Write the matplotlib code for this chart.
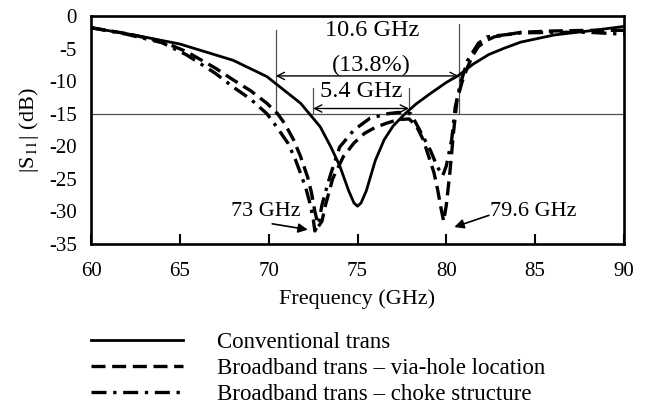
import matplotlib
matplotlib.use('Agg')
import matplotlib.pyplot as plt

# police style Times pour tout le graphique
plt.rcParams['font.family'] = ['Liberation Serif', 'DejaVu Serif']
plt.rcParams['mathtext.fontset'] = 'stix'
plt.rcParams['axes.unicode_minus'] = False

# courbe 1 : transition conventionnelle
f_conv = [60, 62.4, 65, 68, 69.9, 71.8, 72.9, 73.5, 74.0, 74.5, 74.8, 75.0, 75.2, 75.5,
          76.0, 76.5, 77.0, 77.6, 78.3, 79.1, 80.0, 80.7, 81.5, 82.4, 83.3, 84.2, 86.1, 88.0, 90]
s_conv = [-1.8, -2.9, -4.3, -6.8, -9.3, -13.4, -17.0, -20.1, -23.0, -26.8, -28.7, -29.2, -28.7, -26.8,
          -22.2, -19.0, -16.9, -15.2, -13.5, -11.9, -10.2, -9.1, -7.4, -5.9, -4.9, -4.0, -2.9, -2.3, -1.6]

# courbe 2 : transition large bande - position des via
f_via = [60, 62, 64, 65.4, 67, 68, 69, 69.9, 70.5, 70.9, 71.4, 71.8, 72.2, 72.4, 72.6, 72.8,
         73.0, 73.2, 73.6, 74.2, 74.8, 75.4, 76.0, 76.7, 77.3, 77.9, 78.3, 78.7, 79.0, 79.3,
         79.5, 79.7, 79.85, 80.0, 80.2, 80.4, 80.6, 80.9, 81.2, 81.5, 81.8, 82.3, 82.7, 84.2,
         86, 88, 90]
s_via = [-1.8, -2.7, -3.9, -5.5, -8.0, -9.8, -11.5, -13.4, -15.0, -16.5, -19.0, -21.6, -24.8, -27.0, -30.0, -32.3,
         -31.5, -29.0, -25.0, -21.6, -19.5, -18.0, -17.1, -16.4, -15.9, -15.8, -16.8, -19.0, -21.5, -24.0,
         -26.5, -29.5, -31.5, -29.0, -24.0, -18.0, -12.9, -10.0, -7.8, -6.0, -4.7, -3.7, -3.2, -2.5,
         -2.3, -2.2, -2.2]

# courbe 3 : transition large bande - structure choke
f_choke = [60, 62, 64, 65.4, 67, 68, 69, 69.9, 70.5, 71.1, 71.5, 71.8, 72.1, 72.3, 72.5, 72.6,
           72.8, 73.0, 73.3, 73.5, 74.0, 74.8, 75.7, 76.7, 77.3, 78.0, 78.5, 79.1, 79.5, 79.8,
           80.0, 80.3, 80.5, 80.8, 81.2, 81.8, 82.3, 84.2, 86, 88, 90]
s_choke = [-1.8, -2.8, -4.1, -6.0, -8.8, -10.9, -12.8, -15.0, -17.2, -19.6, -22.0, -24.2, -26.5, -28.5, -31.0, -33.0,
           -32.0, -29.0, -26.0, -24.2, -20.1, -17.5, -15.7, -15.0, -14.8, -15.0, -17.5, -20.6, -23.2, -24.5,
           -23.0, -19.0, -14.0, -10.3, -6.8, -4.2, -3.2, -2.6, -2.5, -2.5, -2.8]

x_ticks = [60, 65, 70, 75, 80, 85, 90]
y_ticks = [0, -5, -10, -15, -20, -25, -30, -35]

# bornes de bande passante
bw10_lo, bw10_hi = 70.4, 80.7
bw15_lo, bw15_hi = 72.5, 77.9

fig = plt.figure(figsize=(6.51, 4.12), dpi=100)
ax = fig.add_axes([91/651, 1-244/412, 533/651, 228/412])

# lignes de référence
ref_c = '#505050'
ax.axhline(-15, color=ref_c, lw=0.9, zorder=1)
ax.plot([bw10_lo, bw10_lo], [-2.1, -15], color=ref_c, lw=0.9, zorder=1)
ax.plot([bw10_hi, bw10_hi], [-1.2, -15], color=ref_c, lw=0.9, zorder=1)
ax.plot([bw15_lo, bw15_lo], [-11, -15], color=ref_c, lw=0.9, zorder=1)
ax.plot([bw15_hi, bw15_hi], [-11, -15], color=ref_c, lw=0.9, zorder=1)

l1, = ax.plot(f_conv, s_conv, color='black', lw=2.0, label='Conventional trans')
l2, = ax.plot(f_via, s_via, color='black', lw=2.4, dashes=(4.2, 2.0), label='Broadband trans \u2013 via-hole location')
l3, = ax.plot(f_choke, s_choke, color='black', lw=2.4, dashes=(4.5, 2.0, 1.0, 2.0), label='Broadband trans \u2013 choke structure')

# flèches de bande passante
ax.annotate('', xy=(bw10_lo, -9.2), xytext=(bw10_hi, -9.2),
            arrowprops=dict(arrowstyle='<->', color='black', lw=1.0, shrinkA=0, shrinkB=0,
                            mutation_scale=13))
ax.annotate('', xy=(bw15_lo, -14.2), xytext=(bw15_hi, -14.2),
            arrowprops=dict(arrowstyle='<->', color='black', lw=1.0, shrinkA=0, shrinkB=0,
                            mutation_scale=13))
ax.text(75.8, -2.3, '10.6 GHz', ha='center', va='center', fontsize=17.5)
ax.text(75.75, -7.6, '(13.8%)', ha='center', va='center', fontsize=17.5)
ax.text(75.2, -11.6, '5.4 GHz', ha='center', va='center', fontsize=17.5)

# fréquences de résonance
ax.text(69.85, -30.0, '73 GHz', ha='center', va='center', fontsize=16)
ax.annotate('', xy=(72.2, -32.8), xytext=(70.2, -31.9),
            arrowprops=dict(arrowstyle='-|>', color='black', lw=1.2, shrinkA=0, shrinkB=0,
                            mutation_scale=14))
ax.text(84.9, -30.0, '79.6 GHz', ha='center', va='center', fontsize=16)
ax.annotate('', xy=(80.45, -32.4), xytext=(82.4, -30.6),
            arrowprops=dict(arrowstyle='-|>', color='black', lw=1.2, shrinkA=0, shrinkB=0,
                            mutation_scale=14))

ax.set_xlim(60, 90)
ax.set_ylim(-35, 0)
ax.set_xticks(x_ticks)
ax.set_yticks(y_ticks)
ax.tick_params(axis='x', direction='in', length=7, width=1.5, labelsize=15, pad=13)
ax.tick_params(axis='y', direction='in', length=0, labelsize=15, pad=10)
for sp in ax.spines.values():
    sp.set_linewidth(1.9)

ax.set_xlabel('Frequency (GHz)', fontsize=16, labelpad=6)
ax.set_ylabel('|S$_{11}$| (dB)', fontsize=16, labelpad=6)

fig.legend(handles=[l1, l2, l3], loc='upper left', bbox_to_anchor=(91/651, 1-332/412),
           frameon=False, fontsize=16.5, handlelength=4.0, handletextpad=1.5,
           labelspacing=0.22, borderpad=0, borderaxespad=0)

fig.savefig('out.png', dpi=100)
